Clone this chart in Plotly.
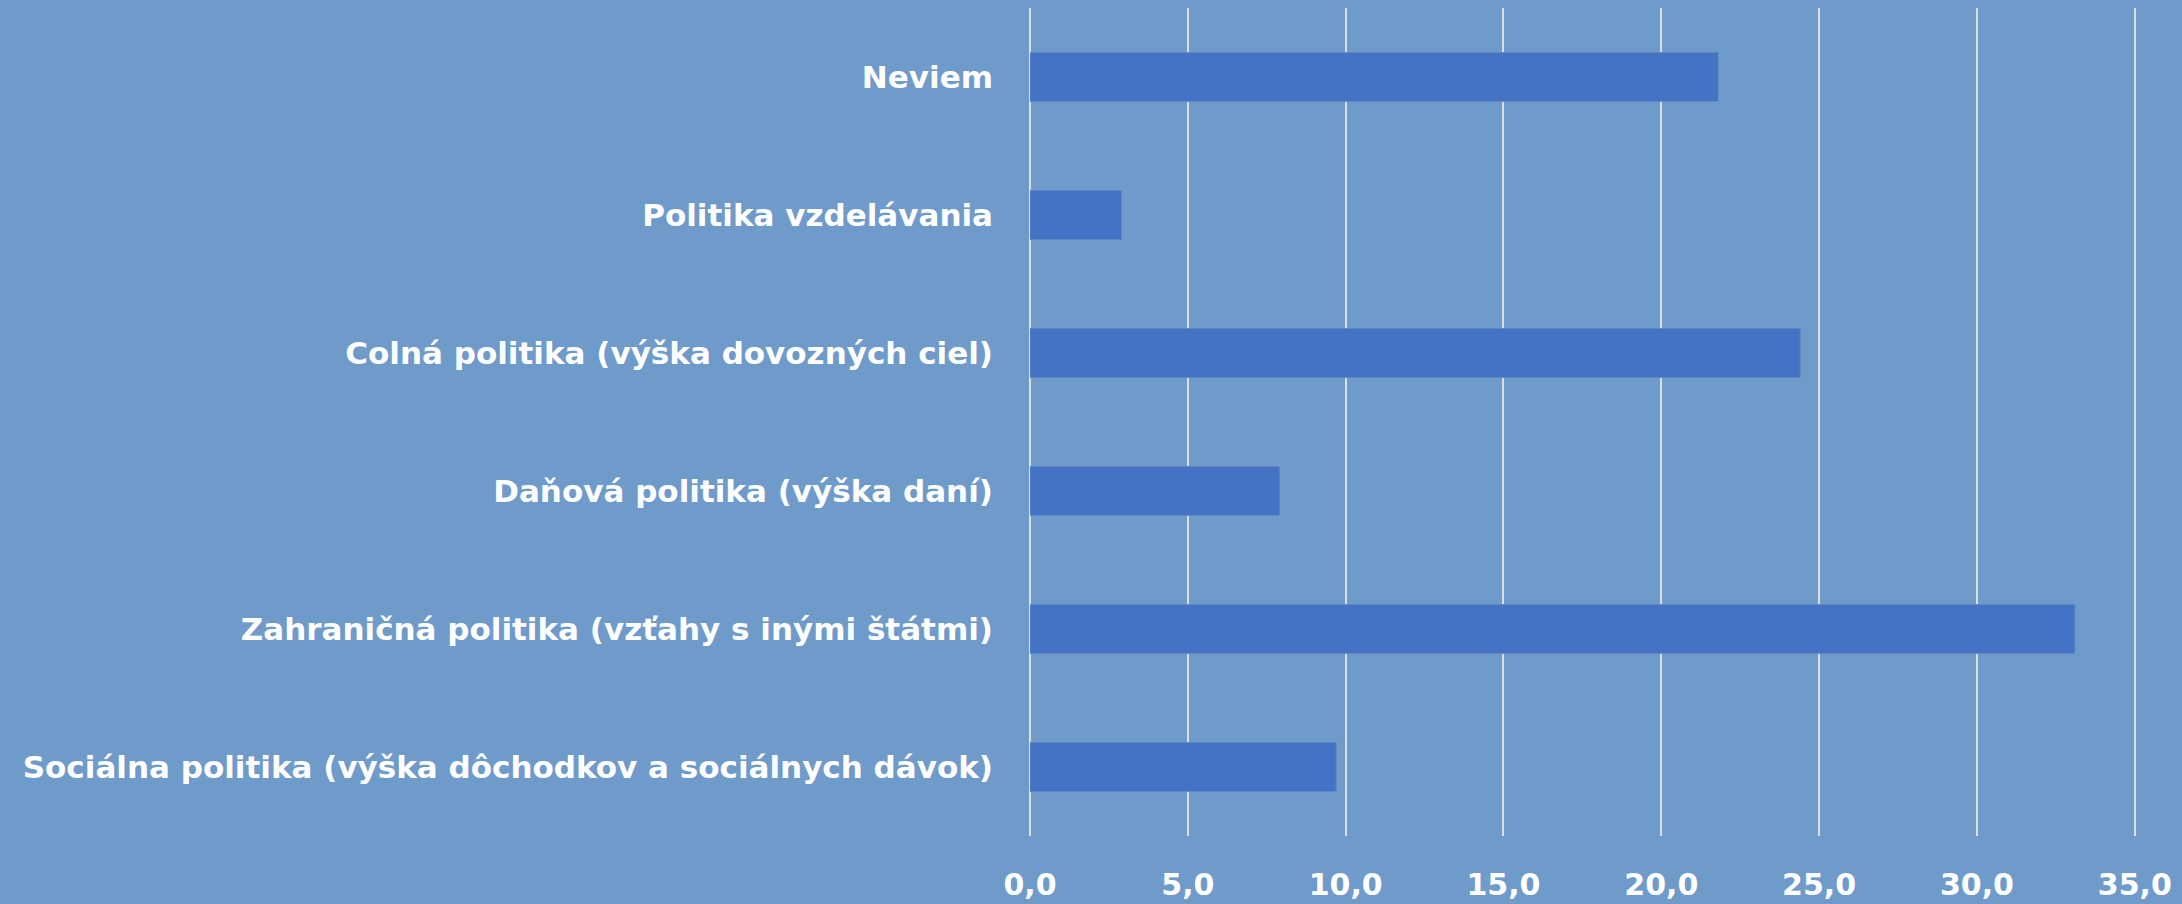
import plotly.graph_objects as go

categories = [
    "Sociálna politika (výška dôchodkov a sociálnych dávok)",
    "Zahraničná politika (vzťahy s inými štátmi)",
    "Daňová politika (výška daní)",
    "Colná politika (výška dovozných ciel)",
    "Politika vzdelávania",
    "Neviem",
]
values = [9.7, 33.1, 7.9, 24.4, 2.9, 21.8]
x_ticks = [0, 5, 10, 15, 20, 25, 30, 35]

BG = "#6f9bcb"
BAR = "#4472c4"
GRID = "#dcdcdc"

fig = go.Figure(
    go.Bar(
        x=values,
        y=categories,
        orientation="h",
        marker=dict(color=BAR, line=dict(color="#5a85c9", width=1)),
        hoverinfo="skip",
    )
)

fig.update_layout(
    width=2182,
    height=904,
    margin=dict(l=1030, r=45, t=8, b=68),
    paper_bgcolor=BG,
    plot_bgcolor=BG,
    bargap=0.647,
    separators=", ",
    showlegend=False,
    font=dict(family="DejaVu Sans", color="white", size=30, weight="bold"),
)
fig.update_xaxes(
    range=[0, 35.07],
    tickvals=x_ticks,
    tickformat=".1f",
    showgrid=True,
    gridcolor=GRID,
    gridwidth=1.5,
    zeroline=True,
    zerolinecolor=GRID,
    zerolinewidth=1.5,
    showline=False,
    ticks="",
    automargin=False,
    ticklabelstandoff=28,
    tickfont=dict(size=30, color="white", family="DejaVu Sans", weight="bold"),
)
fig.update_yaxes(
    range=[-0.5, 5.5],
    showgrid=False,
    zeroline=False,
    showline=False,
    ticks="",
    automargin=False,
    ticklabelstandoff=36,
    tickfont=dict(size=31, color="white", family="DejaVu Sans", weight="bold"),
)

fig.write_html("out.html", config={"displayModeBar": False})

with open("out.html", "r", encoding="utf-8") as f:
    html = f.read()
html = html.replace("<head>", "<head><style>html,body{margin:0;padding:0;overflow:hidden;}</style>", 1)
with open("out.html", "w", encoding="utf-8") as f:
    f.write(html)
